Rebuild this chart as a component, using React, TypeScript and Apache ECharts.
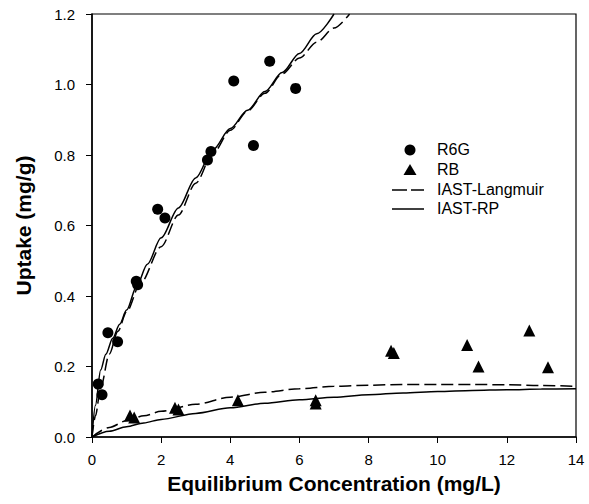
import React, { useEffect, useRef } from "react";
import * as echarts from "echarts";

// Measured data
const r6gX = [0.18, 0.29, 0.46, 0.74, 1.28, 1.32, 1.9, 2.11, 3.34, 3.44, 4.1, 4.67, 5.14, 5.89];
const r6gY = [0.15, 0.12, 0.296, 0.27, 0.442, 0.432, 0.646, 0.621, 0.786, 0.81, 1.01, 0.827, 1.066, 0.989];

const rbX = [1.1, 1.22, 2.4, 2.5, 4.22, 6.47, 6.47, 8.65, 8.73, 10.85, 11.18, 12.65, 13.19];
const rbY = [0.061, 0.055, 0.083, 0.078, 0.104, 0.104, 0.095, 0.245, 0.238, 0.261, 0.2, 0.302, 0.198];

// IAST-RP (solid) model curves
const rpR6gX = [0, 0.1, 0.25, 0.4, 0.6, 0.8, 1.0, 1.3, 1.6, 2.0, 2.5, 3.0, 3.5, 4.0, 4.5, 5.0, 5.5, 6.0, 6.5, 7.0];
const rpR6gY = [0, 0.09, 0.19, 0.235, 0.28, 0.32, 0.36, 0.43, 0.49, 0.565, 0.65, 0.735, 0.815, 0.875, 0.927, 0.98, 1.034, 1.088, 1.144, 1.2];

// IAST-Langmuir (dashed) model curves
const lgR6gX = [0, 0.1, 0.25, 0.5, 0.75, 1.0, 1.4, 2.0, 2.5, 3.0, 3.5, 4.0, 4.5, 5.0, 5.5, 6.0, 6.5, 7.0, 7.45];
const lgR6gY = [0, 0.06, 0.14, 0.235, 0.3, 0.355, 0.436, 0.54, 0.63, 0.72, 0.805, 0.87, 0.925, 0.975, 1.03, 1.075, 1.12, 1.16, 1.2];

const rbCurveX = [0, 0.5, 1, 1.5, 2, 3, 4, 5, 6, 7, 8, 9, 10, 11, 12, 13, 14];
const lgRbY = [0, 0.027, 0.046, 0.06, 0.073, 0.093, 0.113, 0.127, 0.137, 0.144, 0.147, 0.149, 0.149, 0.149, 0.148, 0.146, 0.144];
const rpRbY = [0, 0.016, 0.029, 0.04, 0.05, 0.067, 0.083, 0.096, 0.106, 0.113, 0.12, 0.125, 0.129, 0.132, 0.134, 0.136, 0.137];

const xTicks = [0, 2, 4, 6, 8, 10, 12, 14];
const yTicks = [0, 0.2, 0.4, 0.6, 0.8, 1.0, 1.2];

const legendNames = ["R6G", "RB", "IAST-Langmuir", "IAST-RP"];

const zip = (xs: number[], ys: number[]) => xs.map((x, i) => [x, ys[i]]);

export default function App() {
  const ref = useRef<HTMLDivElement>(null);
  useEffect(() => {
    if (!ref.current) return;
    document.body.style.margin = "0";
    const chart = echarts.init(ref.current, undefined, { renderer: "svg" });
    const font = "Liberation Sans, Arial, Helvetica, sans-serif";
    const dashed = { color: "#000", width: 1.5, type: [12, 5] as any };
    const solid = { color: "#000", width: 1.5, type: "solid" as any };
    const lx = 392;
    const tx = 437;
    const ly = [150, 170, 190, 209];
    const legendText = legendNames.map((n, i) => ({
      type: "text",
      left: tx,
      top: ly[i] - 9,
      style: { text: n, fontFamily: font, fontSize: 16, fill: "#000" },
    }));
    chart.setOption({
      animation: false,
      backgroundColor: "#fff",
      grid: {
        left: 92,
        right: 13,
        top: 14,
        bottom: 67,
        show: true,
        borderColor: "#000",
        borderWidth: 1.2,
      },
      graphic: [
        { type: "circle", shape: { cx: 410, cy: ly[0], r: 5.5 }, style: { fill: "#000" } },
        {
          type: "polygon",
          shape: { points: [[410, ly[1] - 6], [416.5, ly[1] + 5], [403.5, ly[1] + 5]] },
          style: { fill: "#000" },
        },
        {
          type: "line",
          shape: { x1: lx, y1: ly[2], x2: lx + 32, y2: ly[2] },
          style: { stroke: "#000", lineWidth: 1.5, lineDash: [15, 4] },
        },
        {
          type: "line",
          shape: { x1: lx, y1: ly[3], x2: lx + 32, y2: ly[3] },
          style: { stroke: "#000", lineWidth: 1.5 },
        },
        ...legendText,
      ],
      xAxis: {
        type: "value",
        min: xTicks[0],
        max: xTicks[xTicks.length - 1],
        interval: 2,
        name: "Equilibrium Concentration (mg/L)",
        nameLocation: "middle",
        nameGap: 36,
        nameTextStyle: { fontFamily: font, fontSize: 21, fontWeight: "bold", color: "#000" },
        axisLine: { lineStyle: { color: "#000", width: 1.5 } },
        axisTick: { length: 6, lineStyle: { color: "#000", width: 1 } },
        axisLabel: {
          fontFamily: font,
          fontSize: 15,
          color: "#000",
          margin: 15,
          formatter: (v: number) => (xTicks.includes(v) ? String(v) : ""),
        },
        splitLine: { show: false },
      },
      yAxis: {
        type: "value",
        min: yTicks[0],
        max: yTicks[yTicks.length - 1],
        interval: 0.2,
        name: "Uptake (mg/g)",
        nameLocation: "middle",
        nameGap: 58,
        nameTextStyle: { fontFamily: font, fontSize: 21, fontWeight: "bold", color: "#000" },
        axisLine: { lineStyle: { color: "#000", width: 1.5 } },
        axisTick: { length: 6, lineStyle: { color: "#000", width: 1 } },
        axisLabel: {
          fontFamily: font,
          fontSize: 15,
          color: "#000",
          margin: 17,
          formatter: (v: number) => v.toFixed(1),
        },
        splitLine: { show: false },
      },
      series: [
        {
          name: "IAST-Langmuir",
          type: "line",
          data: zip(lgR6gX, lgR6gY),
          showSymbol: false,
          symbol: "none",
          smooth: 0.3,
          smoothMonotone: "x",
          lineStyle: dashed,
          itemStyle: { color: "#000" },
        },
        {
          name: "IAST-Langmuir",
          type: "line",
          data: zip(rbCurveX, lgRbY),
          showSymbol: false,
          symbol: "none",
          smooth: 0.3,
          smoothMonotone: "x",
          lineStyle: dashed,
          itemStyle: { color: "#000" },
        },
        {
          name: "IAST-RP",
          type: "line",
          data: zip(rpR6gX, rpR6gY),
          showSymbol: false,
          symbol: "none",
          smooth: 0.3,
          smoothMonotone: "x",
          lineStyle: solid,
          itemStyle: { color: "#000" },
        },
        {
          name: "IAST-RP",
          type: "line",
          data: zip(rbCurveX, rpRbY),
          showSymbol: false,
          symbol: "none",
          smooth: 0.3,
          smoothMonotone: "x",
          lineStyle: solid,
          itemStyle: { color: "#000" },
        },
        {
          name: "R6G",
          type: "scatter",
          data: zip(r6gX, r6gY),
          symbol: "circle",
          symbolSize: 11,
          itemStyle: { color: "#000", opacity: 1 },
          z: 5,
        },
        {
          name: "RB",
          type: "scatter",
          data: zip(rbX, rbY),
          symbol: "triangle",
          symbolSize: 12,
          itemStyle: { color: "#000", opacity: 1 },
          z: 5,
        },
      ],
    });
    return () => chart.dispose();
  }, []);
  return <div ref={ref} style={{ width: 589, height: 504 }} />;
}
